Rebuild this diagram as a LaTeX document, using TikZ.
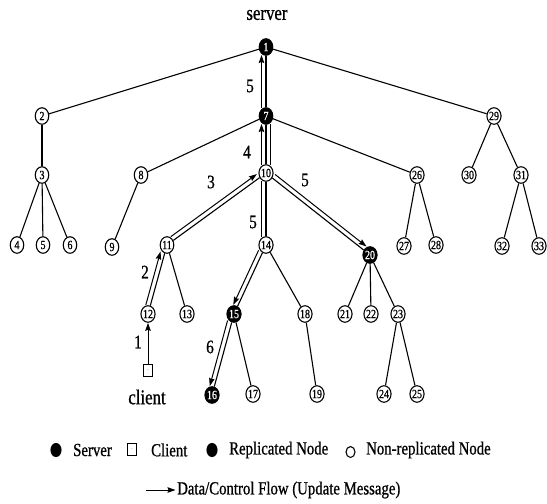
\documentclass[tikz,border=0pt]{standalone}
\usepackage{fontspec}
\setmainfont{Liberation Serif}
\newfontfamily\narrowserif[FakeStretch=0.8, FakeBold=0.8]{Liberation Serif}
\usepackage{tikz}
\usetikzlibrary{shapes.geometric, arrows.meta, calc}

\newcommand{\flowline}[4][flow]{%
  \path ($(#2)!4.5pt!#4:(#3)$) coordinate (fs) ($(fs)+(#3)-(#2)$) coordinate (fe);
  \draw[#1] (fs) -- (fe);}

\begin{document}
\begin{tikzpicture}[
    x=1pt, y=1pt,
    nd/.style={ellipse, draw, line width=1.1pt, fill=white, minimum width=13.5pt,
        minimum height=16.5pt, inner sep=0pt,
        font=\narrowserif\fontsize{12.5}{12.5}\selectfont},
    rep/.style={nd, fill=black, text=white},
    clientbox/.style={rectangle, draw, line width=1pt, minimum width=9pt,
        minimum height=12pt, inner sep=0pt, font=\fontsize{5}{5}\selectfont},
    edge/.style={line width=1.1pt},
    flow/.style={line width=1pt, -{Stealth[length=8pt,width=5.5pt,inset=1pt]},
        shorten <=8pt, shorten >=8pt},
    flowplain/.style={line width=1pt, shorten <=8pt, shorten >=8pt},
    step num/.style={font=\narrowserif\fontsize{19}{19}\selectfont},
    big/.style={font=\narrowserif\fontsize{21}{21}\selectfont},
    legtext/.style={font=\narrowserif\fontsize{18.5}{18.5}\selectfont, anchor=west, inner sep=0pt},
  ]
  \useasboundingbox (0,0) rectangle (547,-504);
  \node[big] (servertxt) at (267,-15) {server};
  \node[rep] (n1) at (266,-47) {1};
  \node[nd] (n2) at (42,-116) {2};
  \node[rep] (n7) at (266,-116) {7};
  \node[nd] (n29) at (494,-116) {29};
  \node[nd] (n3) at (42,-175) {3};
  \node[nd] (n8) at (141,-175) {8};
  \node[nd] (n10) at (266,-173) {10};
  \node[nd] (n26) at (417,-175) {26};
  \node[nd] (n30) at (469,-175) {30};
  \node[nd] (n31) at (521,-175) {31};
  \node[nd] (n4) at (17,-245) {4};
  \node[nd] (n5) at (43,-245) {5};
  \node[nd] (n6) at (70,-245) {6};
  \node[nd] (n9) at (112,-247) {9};
  \node[nd] (n11) at (167,-245) {11};
  \node[nd] (n14) at (266,-245) {14};
  \node[rep] (n20) at (370,-255) {20};
  \node[nd] (n27) at (404,-246) {27};
  \node[nd] (n28) at (436,-245) {28};
  \node[nd] (n32) at (502,-246) {32};
  \node[nd] (n33) at (539,-246) {33};
  \node[nd] (n12) at (148,-314) {12};
  \node[nd] (n13) at (187,-314) {13};
  \node[rep] (n15) at (234,-314) {15};
  \node[nd] (n18) at (305,-314) {18};
  \node[nd] (n21) at (345,-314) {21};
  \node[nd] (n22) at (371,-314) {22};
  \node[nd] (n23) at (398,-314) {23};
  \node[clientbox] (client) at (148,-370) {.};
  \node[big] (clienttxt) at (147,-397) {client};
  \node[rep] (n16) at (212,-395) {16};
  \node[nd] (n17) at (253,-394) {17};
  \node[nd] (n19) at (317,-394) {19};
  \node[nd] (n24) at (384,-394) {24};
  \node[nd] (n25) at (417,-394) {25};
  % tree
  \draw[edge] (n1) -- (n2);
  \draw[edge] (n1) -- (n7);
  \draw[edge] (n1) -- (n29);
  \draw[edge] (n2) -- (n3);
  \draw[edge] (n3) -- (n4);
  \draw[edge] (n3) -- (n5);
  \draw[edge] (n3) -- (n6);
  \draw[edge] (n7) -- (n8);
  \draw[edge] (n7) -- (n10);
  \draw[edge] (n7) -- (n26);
  \draw[edge] (n8) -- (n9);
  \draw[edge] (n10) -- (n11);
  \draw[edge] (n10) -- (n14);
  \draw[edge] (n10) -- (n20);
  \draw[edge] (n11) -- (n12);
  \draw[edge] (n11) -- (n13);
  \draw[edge] (n14) -- (n15);
  \draw[edge] (n14) -- (n18);
  \draw[edge] (n15) -- (n16);
  \draw[edge] (n15) -- (n17);
  \draw[edge] (n18) -- (n19);
  \draw[edge] (n20) -- (n21);
  \draw[edge] (n20) -- (n22);
  \draw[edge] (n20) -- (n23);
  \draw[edge] (n23) -- (n24);
  \draw[edge] (n23) -- (n25);
  \draw[edge] (n26) -- (n27);
  \draw[edge] (n26) -- (n28);
  \draw[edge] (n29) -- (n30);
  \draw[edge] (n29) -- (n31);
  \draw[edge] (n31) -- (n32);
  \draw[edge] (n31) -- (n33);
  % update message
  \draw[flow, shorten <=0pt, shorten >=0pt] (client) -- (n12);
  \flowline{n12}{n11}{90}
  \flowline{n11}{n10}{90}
  \flowline{n10}{n7}{90}
  \flowline{n7}{n1}{90}
  \flowline[flowplain]{n7}{n10}{90}
  \flowline[flowplain]{n10}{n14}{-90}
  \flowline{n10}{n20}{90}
  \flowline{n14}{n15}{-90}
  \flowline{n15}{n16}{-90}
  \node[step num] (s1) at (138,-342) {1};
  \node[step num] (s2) at (145,-272) {2};
  \node[step num] (s3) at (211,-182) {3};
  \node[step num] (s4) at (247,-152) {4};
  \node[step num] (s5a) at (250,-86) {5};
  \node[step num] (s5b) at (305,-180) {5};
  \node[step num] (s5c) at (253,-222) {5};
  \node[step num] (s6) at (210,-347) {6};
  % legend
  \node[rep, minimum width=10pt, minimum height=13pt] (lgserver) at (56,-450) {};
  \node[legtext] (lgservertxt) at (73,-450) {Server};
  \node[clientbox] (lgclient) at (132,-449) {.};
  \node[legtext] (lgclienttxt) at (151,-450) {Client};
  \node[rep, minimum width=10pt, minimum height=13pt] (lgrep) at (212,-450) {};
  \node[legtext] (lgreptxt) at (229,-450) {Replicated Node};
  \node[nd, minimum width=9pt, minimum height=11pt] (lgnon) at (350.5,-452) {};
  \node[legtext] (lgnontxt) at (366,-450) {Non-replicated Node};
  \coordinate (lgflowstart) at (146,-490);
  \node[legtext] (lgflowtxt) at (177,-490) {Data/Control Flow (Update Message)};
  \draw[flow, shorten <=0pt, shorten >=1.5pt] (lgflowstart) -- (lgflowtxt.west);
\end{tikzpicture}
\end{document}
